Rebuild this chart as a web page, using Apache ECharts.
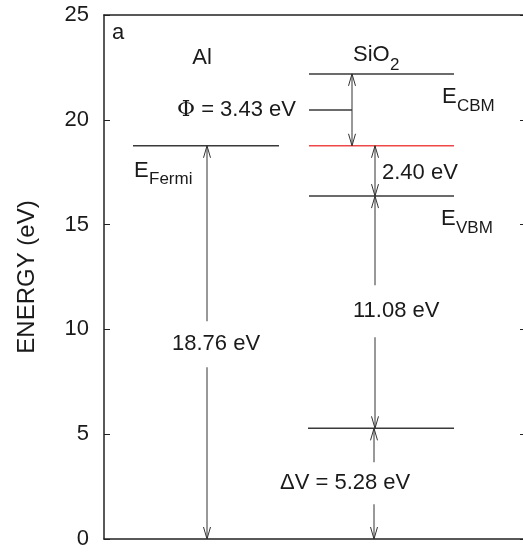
<!DOCTYPE html>
<html><head><meta charset="utf-8">
<script src="https://cdn.jsdelivr.net/npm/echarts@6/dist/echarts.min.js"></script>
<style>html,body{margin:0;padding:0;background:#fff}#c{width:523px;height:554px}</style>
</head><body><div id="c"></div>
<script>
// ---------------- data ----------------
const levelNames    = ['Al E_Fermi', 'SiO2 E_CBM', 'SiO2 E_Fermi', 'SiO2 E_VBM', 'SiO2 shifted level'];
const levelEnergies = [18.76, 22.19, 18.76, 16.36, 5.28];
const gapNames  = ['Φ', 'E_Fermi − E_VBM', 'E_VBM − shifted', 'ΔV', 'Al E_Fermi'];
const gapValues = [3.43, 2.40, 11.08, 5.28, 18.76];
const gapFrom   = [22.19, 18.76, 16.36, 5.28, 0];
const gapTo     = [18.76, 16.36, 5.28, 0, 18.76];
const yTickValues = [0, 5, 10, 15, 20, 25];
const columnNames = ['Al', 'SiO', '2'];

// ---------------- layout (pixels) ----------------
const G = { left: 104, top: 15, width: 421, height: 524 };
const Y0 = G.top + G.height, PPU = G.height / 25;
const px2x = p => p - G.left;
const px2v = p => (Y0 - p) / PPU;
const levelXpx   = [[133, 279], [309, 454], [309, 454], [309, 454], [308, 454]];
const levelColor = ['#3a3a3a', '#3a3a3a', '#f04848', '#3a3a3a', '#3a3a3a'];
const arrowXpx   = [352, 375, 375, 374, 207];
const leaderPx   = { x1: 309, x2: 352, y: 110 };
const FONT = "'Liberation Sans', Arial, Helvetica, sans-serif";
const fmt = v => v.toFixed(2) + ' eV';

const labels = [
  { t: 'a', x: 112, b: 41 },
  { t: columnNames[0], x: 202, b: 66, align: 'center' },
  { t: columnNames[1], sub: columnNames[2], x: 353, b: 63, subDx: 37, subDb: 8 },
  { t: 'E', sub: 'Fermi', x: 134, b: 179, subDx: 15, subDb: 6 },
  { t: 'E', sub: 'CBM', x: 442, b: 105, subDx: 15, subDb: 7 },
  { t: 'E', sub: 'VBM', x: 441, b: 227, subDx: 15, subDb: 7 },
  { t: '{p|Φ} = ' + fmt(gapValues[0]), x: 177, b: 118, rich: true },
  { t: fmt(gapValues[1]), x: 382, b: 181 },
  { t: fmt(gapValues[2]), x: 353, b: 319, pad: [8, 0, 22, 0] },
  { t: fmt(gapValues[4]), x: 172, b: 352, pad: [10, 0, 14, 0] },
  { t: 'ΔV = ' + fmt(gapValues[3]), x: 280, b: 491, pad: [11, 0, 9, 0] }
];

const levelData = levelEnergies.map((v, i) => [px2x(levelXpx[i][0]), px2x(levelXpx[i][1]), v, i]);
levelData.push([px2x(leaderPx.x1), px2x(leaderPx.x2), px2v(leaderPx.y), 0]);
const arrowData = gapValues.map((g, i) => [px2x(arrowXpx[i]), gapFrom[i], gapTo[i]]);
const labelData = labels.map((l, i) => [px2x(l.x), px2v(l.b), i]);

function renderLevel(params, api) {
  const a = api.coord([api.value(0), api.value(2)]);
  const b = api.coord([api.value(1), api.value(2)]);
  const col = levelColor[api.value(3)] || '#3a3a3a';
  return { type: 'line', shape: { x1: a[0], y1: a[1], x2: b[0], y2: b[1] },
           style: { stroke: col, lineWidth: 1.5 } };
}
function renderArrow(params, api) {
  const x = api.value(0);
  const p1 = api.coord([x, api.value(1)]), p2 = api.coord([x, api.value(2)]);
  const d = p2[1] > p1[1] ? 1 : -1, L = 12, W = 3.5;
  const st = { stroke: '#333', lineWidth: 1, fill: null };
  return { type: 'group', children: [
    { type: 'line', shape: { x1: p1[0], y1: p1[1], x2: p2[0], y2: p2[1] }, style: st },
    { type: 'polyline', shape: { points: [[p1[0] - W, p1[1] + d * L], [p1[0], p1[1]], [p1[0] + W, p1[1] + d * L]] }, style: st },
    { type: 'polyline', shape: { points: [[p2[0] - W, p2[1] - d * L], [p2[0], p2[1]], [p2[0] + W, p2[1] - d * L]] }, style: st }
  ]};
}
function renderLabel(params, api) {
  const l = labels[api.value(2)];
  const p = api.coord([api.value(0), api.value(1)]);
  const fs = 22;
  const main = { type: 'text', x: p[0], y: p[1] - 0.35 * fs, style: {
    text: l.t, fontSize: fs, fontFamily: FONT, fill: '#1a1a1a',
    align: l.align || 'left', verticalAlign: 'middle'
  }};
  if (l.rich) main.style.rich = { p: { fontSize: fs, fontFamily: "'DejaVu Serif', 'Liberation Serif', serif", fill: '#1a1a1a' } };
  if (l.pad) { main.style.backgroundColor = '#fff'; main.style.padding = l.pad; }
  const children = [main];
  if (l.sub) {
    const sf = 17;
    children.push({ type: 'text', x: p[0] + l.subDx, y: p[1] + l.subDb - 0.35 * sf, style: {
      text: l.sub, fontSize: sf, fontFamily: FONT, fill: '#1a1a1a', align: 'left', verticalAlign: 'middle'
    }});
  }
  return { type: 'group', children };
}

const chart = echarts.init(document.getElementById('c'), null, { renderer: 'canvas' });
const axisLineStyle = { color: '#222', width: 1.5 };
chart.setOption({
  animation: false,
  backgroundColor: '#fff',
  grid: { left: G.left, top: G.top, width: G.width, height: G.height, containLabel: false, outerBoundsMode: 'none' },
  xAxis: [
    { type: 'value', min: 0, max: G.width, position: 'bottom', axisLine: { show: true, onZero: false, lineStyle: axisLineStyle },
      axisTick: { show: false }, axisLabel: { show: false }, splitLine: { show: false } },
    { type: 'value', min: 0, max: G.width, position: 'top', axisLine: { show: true, onZero: false, lineStyle: axisLineStyle },
      axisTick: { show: false }, axisLabel: { show: false }, splitLine: { show: false } }
  ],
  yAxis: [
    { type: 'value', min: yTickValues[0], max: yTickValues[yTickValues.length - 1], interval: 5, position: 'left',
      name: 'ENERGY (eV)', nameLocation: 'middle', nameGap: 65,
      nameTextStyle: { fontSize: 24, fontFamily: FONT, color: '#1a1a1a' },
      axisLine: { show: true, onZero: false, lineStyle: axisLineStyle },
      axisTick: { show: true, inside: true, length: 6, lineStyle: { color: '#222', width: 1 } },
      axisLabel: { show: true, margin: 15, fontSize: 22, fontFamily: FONT, color: '#1a1a1a' },
      splitLine: { show: false } },
    { type: 'value', min: yTickValues[0], max: yTickValues[yTickValues.length - 1], interval: 5, position: 'right',
      axisLine: { show: true, onZero: false, lineStyle: axisLineStyle },
      axisTick: { show: true, inside: true, length: 5, lineStyle: { color: '#222', width: 1 } },
      axisLabel: { show: false }, splitLine: { show: false } }
  ],
  series: [
    { type: 'custom', name: 'levels', renderItem: renderLevel, data: levelData, encode: { x: [0, 1], y: 2 }, z: 2 },
    { type: 'custom', name: 'gaps', renderItem: renderArrow, data: arrowData, encode: { x: 0, y: [1, 2] }, z: 3 },
    { type: 'custom', name: 'labels', renderItem: renderLabel, data: labelData, encode: { x: 0, y: 1 }, z: 4 }
  ]
});
</script></body></html>
